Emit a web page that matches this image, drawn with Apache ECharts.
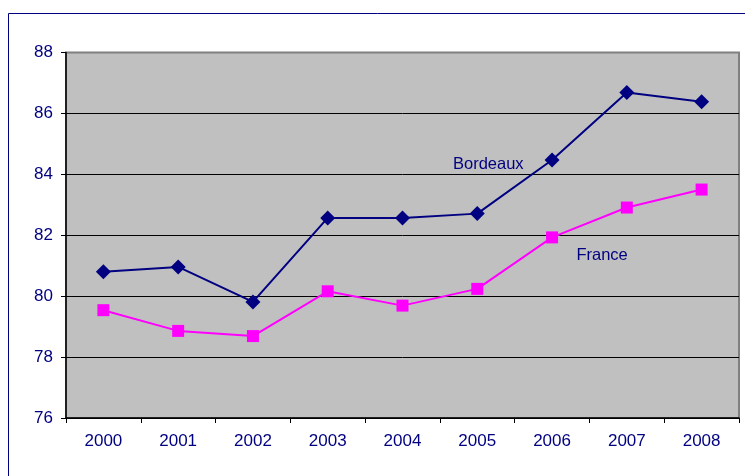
<!DOCTYPE html>
<html><head><meta charset="utf-8">
<script src="https://cdn.jsdelivr.net/npm/echarts@6/dist/echarts.min.js"></script>
<style>html,body{margin:0;padding:0;background:#fff}#c{width:745px;height:476px}</style>
</head><body><div id="c"></div>
<script>
const years = ['2000','2001','2002','2003','2004','2005','2006','2007','2008'];
const bordeaux = [80.80, 80.96, 79.81, 82.57, 82.57, 82.71, 84.47, 86.69, 86.38];
const france = [79.54, 78.86, 78.69, 80.16, 79.69, 80.24, 81.93, 82.91, 83.50];
const yTicks = [76, 78, 80, 82, 84, 86, 88];

const navy = '#000080', pink = '#FF00FF';
const font = 'Liberation Sans, Arial, sans-serif';

function withLabel(arr, idx, text, offset) {
  return arr.map((v, i) => i === idx ? {
    value: v,
    label: { show: true, formatter: text, position: 'inside', offset: offset,
      color: navy, fontSize: 16.5, fontFamily: font }
  } : v);
}

const chart = echarts.init(document.getElementById('c'));
chart.setOption({
  animation: false,
  backgroundColor: '#fff',
  graphic: [{ type: 'rect', shape: { x: 8.5, y: 13.5, width: 800, height: 500 },
    style: { fill: 'none', stroke: navy, lineWidth: 1 }, z: -1 }],
  grid: { left: 66, right: 6, top: 52.5, bottom: 58, show: true,
    backgroundColor: '#C0C0C0', borderColor: '#808080', borderWidth: 2 },
  xAxis: { type: 'category', data: years, boundaryGap: true,
    axisLine: { lineStyle: { color: '#000', width: 1.5 } },
    axisTick: { show: true, length: 5, lineStyle: { color: '#000' } },
    axisLabel: { color: navy, fontSize: 17, fontFamily: font, margin: 15 } },
  yAxis: { type: 'value', min: yTicks[0], max: yTicks[yTicks.length - 1], interval: 2,
    axisLine: { show: true, lineStyle: { color: '#000', width: 1.5 } },
    axisTick: { show: true, length: 5, lineStyle: { color: '#000' } },
    axisLabel: { color: navy, fontSize: 17, fontFamily: font, margin: 13,
      formatter: v => yTicks.includes(v) ? String(v) : '' },
    splitLine: { lineStyle: { color: ['#000','#000','#000','#000','#000','#000','#808080'], width: 1 } } },
  series: [
    { name: 'Bordeaux', type: 'line', data: withLabel(bordeaux, 5, 'Bordeaux', [11, -49]),
      symbol: 'diamond', symbolSize: 15, lineStyle: { color: navy, width: 2 },
      itemStyle: { color: navy }, z: 3 },
    { name: 'France', type: 'line', data: withLabel(france, 6, 'France', [50, 18]),
      symbol: 'rect', symbolSize: 12, lineStyle: { color: pink, width: 2 },
      itemStyle: { color: pink }, z: 2 }
  ]
});
</script></body></html>
